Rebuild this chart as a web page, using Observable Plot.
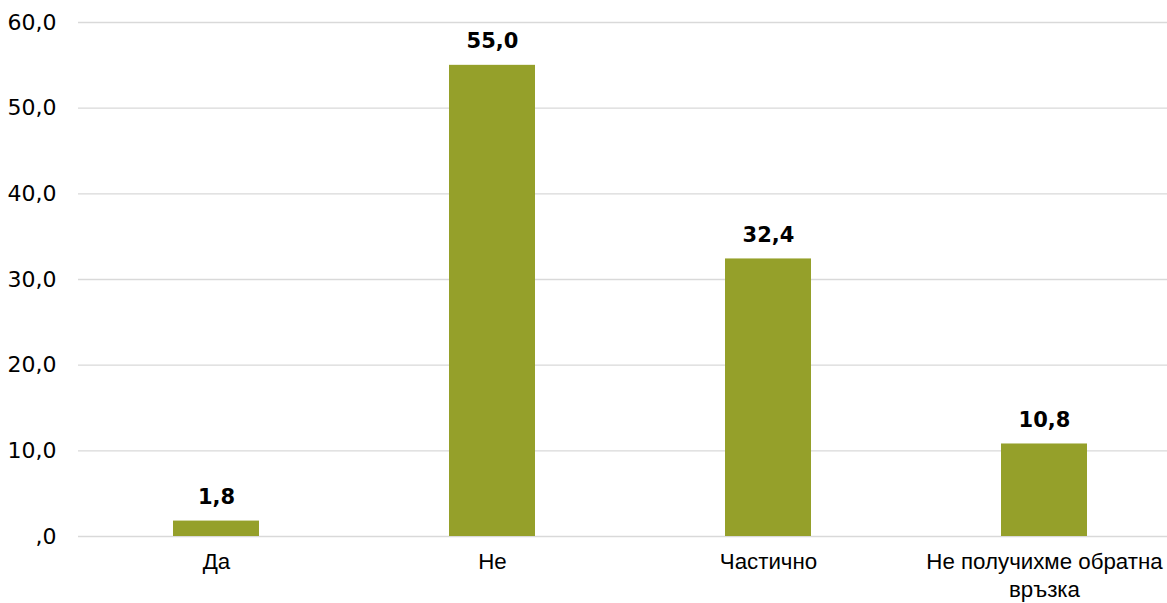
<!DOCTYPE html>
<html>
<head>
<meta charset="utf-8">
<script src="https://cdn.jsdelivr.net/npm/d3@7"></script>
<script src="https://cdn.jsdelivr.net/npm/@observablehq/plot@0.6"></script>
<style>
  html, body { margin: 0; padding: 0; background: #fff; overflow: hidden; }
  #chart svg { display: block; font-family: "Liberation Sans", Arial, sans-serif; }
</style>
</head>
<body>
<div id="chart"></div>
<script>
const categories = ["Да", "Не", "Частично", "Не получихме обратна връзка"];
const values = [1.8, 55.0, 32.4, 10.8];
const yTicks = [0, 10, 20, 30, 40, 50, 60];
const categoryLabels = ["Да", "Не", "Частично", "Не получихме обратна\nвръзка"];

const data = categories.map((c, i) => ({category: c, value: values[i]}));
const fmt = d => d === 0 ? ",0" : d.toFixed(1).replace(".", ",");

const chart = Plot.plot({
  width: 1167,
  height: 603,
  marginLeft: 78,
  marginRight: 0,
  marginTop: 22,
  marginBottom: 67,
  style: {fontFamily: "'Liberation Sans', Arial, sans-serif", color: "#000", background: "#fff"},
  x: {domain: categories, range: [78, 1182], paddingInner: 0.688, paddingOuter: 0.344},
  y: {domain: [0, 60], ticks: yTicks},
  marks: [
    Plot.ruleY(yTicks, {stroke: "#d9d9d9", strokeWidth: 1.3}),
    Plot.barY(data, {x: "category", y: "value", fill: "#95A02A"}),
    Plot.text(data, {x: "category", y: "value", text: d => fmt(d.value), dy: -24, fontSize: 21, fontWeight: "bold", fontFamily: "'DejaVu Sans', sans-serif", fill: "#000"}),
    Plot.axisY({ticks: yTicks, tickFormat: fmt, tickSize: 0, tickPadding: 22, fontSize: 22, fontFamily: "'DejaVu Sans', sans-serif", label: null, fill: "#000"}),
    Plot.axisX({tickSize: 0, tickPadding: 13, fontSize: 22.3, label: null, fill: "#000", lineHeight: 1.25,
      tickFormat: d => categoryLabels[categories.indexOf(d)]})
  ]
});
document.getElementById("chart").appendChild(chart);
</script>
</body>
</html>
